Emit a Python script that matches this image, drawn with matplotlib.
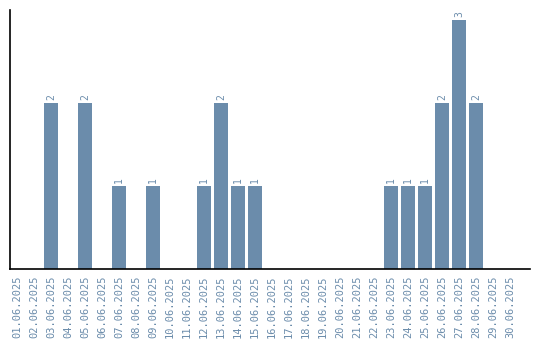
import matplotlib
matplotlib.use("Agg")
import matplotlib.pyplot as plt

# dni czerwca i liczba zdarzen
dni = ["%02d.06.2025" % d for d in range(1, 31)]
wartosci = [0, 0, 2, 0, 2, 0, 1, 0, 1, 0,
            0, 1, 2, 1, 1, 0, 0, 0, 0, 0,
            0, 0, 1, 1, 1, 2, 3, 2, 0, 0]

kolor = "#6b8cab"

fig = plt.figure(figsize=(5.4, 3.4), dpi=100)
ax = fig.add_axes([10 / 540, 71 / 340, 520 / 540, 259 / 340])

x = range(len(dni))
bary = ax.bar(x, wartosci, width=0.82, color=kolor)

for xi, v in zip(x, wartosci):
    if v > 0:
        ax.text(xi, v + 0.03, str(v), rotation=90, ha="center", va="bottom",
                color=kolor, fontsize=7, family="DejaVu Sans Mono")

ax.set_xlim(-0.41, 30.18)
ax.set_ylim(0, 3.12)
ax.set_xticks(list(x))
ax.set_xticklabels(dni, rotation=90, color=kolor, fontsize=7.5,
                   family="DejaVu Sans Mono")
ax.tick_params(axis="x", length=0, pad=5)
ax.set_yticks([])
ax.spines["top"].set_visible(False)
ax.spines["right"].set_visible(False)
ax.spines["left"].set_linewidth(1.2)
ax.spines["bottom"].set_linewidth(1.2)

fig.savefig("out.png", dpi=100)
